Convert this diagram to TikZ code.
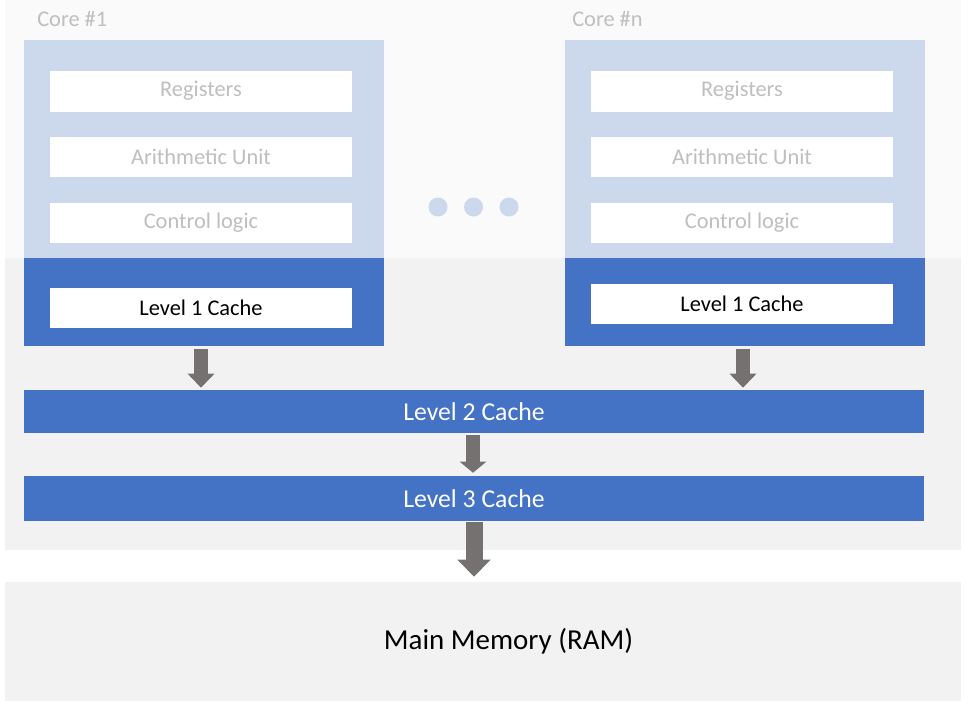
\documentclass[tikz,border=0pt]{standalone}
\usepackage{fontspec}
\setmainfont{Carlito}
\usetikzlibrary{arrows.meta}
\definecolor{bgtopc}{HTML}{FAFAFA}
\definecolor{bgbotc}{HTML}{F2F2F2}
\definecolor{darkb}{HTML}{4472C4}
\definecolor{lightb}{HTML}{CCD8EC}
\definecolor{graytxt}{HTML}{BFBFBF}
\definecolor{arrowc}{HTML}{767171}
\tikzset{
  area/.style={rectangle, inner sep=0pt, draw=none},
  unitbox/.style={area, fill=white, minimum width=226.5pt, minimum height=30pt,
    text=graytxt, font=\fontsize{16.8}{20}\selectfont},
  l1box/.style={area, fill=white, minimum width=226.5pt, minimum height=30pt,
    text=black, font=\fontsize{16.8}{20}\selectfont},
  cachebar/.style={area, fill=darkb, minimum width=675pt, text=white,
    font=\fontsize{19.3}{23}\selectfont},
  corelabel/.style={anchor=base west, inner sep=0pt, text=graytxt,
    font=\fontsize{16.8}{20}\selectfont},
  dot/.style={circle, fill=lightb, minimum size=14.25pt, inner sep=0pt},
  smallarrow/.style={draw=arrowc, line width=10.5pt,
    -{Triangle[width=19.5pt,length=10.5pt]}, arrowc},
}
\begin{document}
\begin{tikzpicture}[x=0.75pt,y=-0.75pt]
\useasboundingbox (0,0) rectangle (969,714);
% backgrounds
\node[area, fill=bgtopc, minimum width=717pt, minimum height=193.5pt] (bgtop) at (483,129) {};
\node[area, fill=bgbotc, minimum width=717pt, minimum height=219pt] (bgbot) at (483,404) {};
% core 1
\node[area, fill=lightb, minimum width=270pt, minimum height=163.5pt] (c1l) at (204,149) {};
\node[area, fill=darkb, minimum width=270pt, minimum height=66pt] (c1d) at (204,302) {};
\node[unitbox, minimum height=30.75pt] (reg1) at (201,91) {Registers};
\node[unitbox] (ari1) at (201,157) {Arithmetic Unit};
\node[unitbox] (ctl1) at (201,223) {Control logic};
\node[l1box] (l1a) at (201,307.5) {Level 1 Cache};
\node[corelabel] (lab1) at (37,26) {Core \#1};
% core n
\node[area, fill=lightb, minimum width=270pt, minimum height=163.5pt] (cnl) at (745,149) {};
\node[area, fill=darkb, minimum width=270pt, minimum height=66pt] (cnd) at (745,302) {};
\node[unitbox, minimum height=30.75pt] (regn) at (742,91) {Registers};
\node[unitbox] (arin) at (742,157) {Arithmetic Unit};
\node[unitbox] (ctln) at (742,223) {Control logic};
\node[l1box] (l1n) at (742,303.5) {Level 1 Cache};
\node[corelabel] (labn) at (572,26) {Core \#n};
% dots
\node[dot] (d1) at (438,207) {};
\node[dot] (d2) at (473.5,207) {};
\node[dot] (d3) at (509,207) {};
% shared caches
\node[cachebar, minimum height=32.25pt] (l2) at (474,411.5) {Level 2 Cache};
\node[cachebar, minimum height=33.75pt] (l3) at (474,498.5) {Level 3 Cache};
% main memory
\node[area, fill=bgbotc, minimum width=717pt, minimum height=89.25pt] (mm) at (483,641.5) {};
\node[inner sep=0pt, font=\fontsize{21.7}{26}\selectfont] (mmtext) at (508.5,641.5) {Main Memory (RAM)};
% arrows
\draw[smallarrow, shorten <=2.25pt, shorten >=1.5pt]
  ([xshift=-2.25pt]c1d.south) -- ([xshift=-2.25pt]c1d.south |- l2.north);
\draw[smallarrow, shorten <=2.25pt, shorten >=1.5pt]
  ([xshift=-1.5pt]cnd.south) -- ([xshift=-1.5pt]cnd.south |- l2.north);
\draw[draw=arrowc, line width=10.5pt, -{Triangle[width=19.5pt,length=8.25pt]}, arrowc,
  shorten <=1.5pt, shorten >=2.25pt] ([xshift=-0.75pt]l2.south) -- ([xshift=-0.75pt]l3.north);
\draw[draw=arrowc, line width=12.75pt, -{Triangle[width=24pt,length=12.75pt]}, arrowc,
  shorten <=0.75pt, shorten >=3.75pt] (l3.south) -- (l3.south |- mm.north);
\end{tikzpicture}
\end{document}
